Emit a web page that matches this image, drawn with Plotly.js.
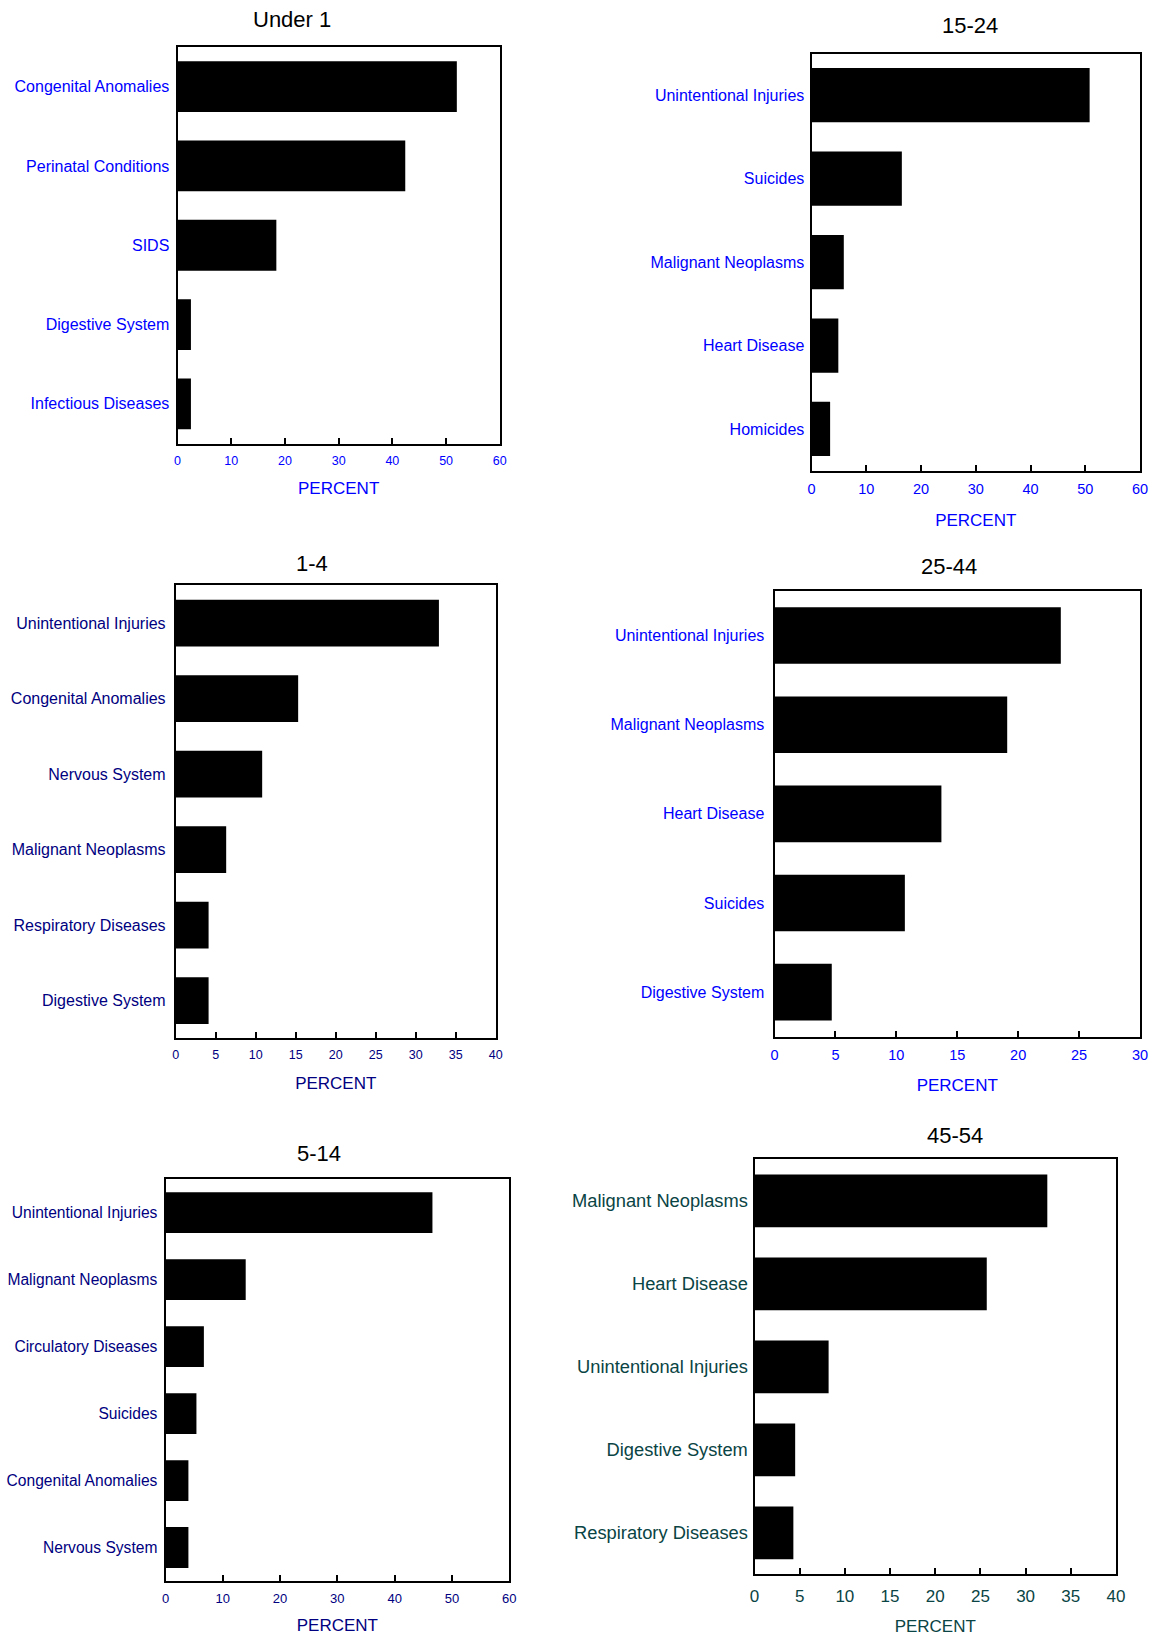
<!DOCTYPE html>
<html>
<head>
<meta charset="utf-8">
<script src="https://cdn.plot.ly/plotly-3.0.1.min.js"></script>
<style>
  html, body { margin: 0; padding: 0; background: #ffffff; }
  #chart { width: 1151px; height: 1636px; }
</style>
</head>
<body>
<div id="chart"></div>
<script>
// ---------------- DATA ----------------
const catsUnder1 = ['Congenital Anomalies', 'Perinatal Conditions', 'SIDS', 'Digestive System', 'Infectious Diseases'];
const valsUnder1 = [52.0, 42.4, 18.4, 2.5, 2.5];

const cats15to24 = ['Unintentional Injuries', 'Suicides', 'Malignant Neoplasms', 'Heart Disease', 'Homicides'];
const vals15to24 = [50.8, 16.5, 5.9, 4.9, 3.4];

const cats1to4 = ['Unintentional Injuries', 'Congenital Anomalies', 'Nervous System', 'Malignant Neoplasms', 'Respiratory Diseases', 'Digestive System'];
const vals1to4 = [32.9, 15.3, 10.8, 6.3, 4.1, 4.1];

const cats25to44 = ['Unintentional Injuries', 'Malignant Neoplasms', 'Heart Disease', 'Suicides', 'Digestive System'];
const vals25to44 = [23.5, 19.1, 13.7, 10.7, 4.7];

const cats5to14 = ['Unintentional Injuries', 'Malignant Neoplasms', 'Circulatory Diseases', 'Suicides', 'Congenital Anomalies', 'Nervous System'];
const vals5to14 = [46.6, 14.0, 6.7, 5.4, 4.0, 4.0];

const cats45to54 = ['Malignant Neoplasms', 'Heart Disease', 'Unintentional Injuries', 'Digestive System', 'Respiratory Diseases'];
const vals45to54 = [32.4, 25.7, 8.2, 4.5, 4.3];

const ticks60 = [0, 10, 20, 30, 40, 50, 60];
const ticks40 = [0, 5, 10, 15, 20, 25, 30, 35, 40];
const ticks30 = [0, 5, 10, 15, 20, 25, 30];

const axisTitle = 'PERCENT';

// ---------------- LAYOUT CONFIG ----------------
const W = 1151, H = 1636;
const FONT = 'Liberation Sans, Arial, Helvetica, sans-serif';

const panels = [
  { title: 'Under 1', cats: catsUnder1, vals: valsUnder1, ticks: ticks60,
    box: [177.5, 499.8, 47, 443.5], titlePos: [292, 19], color: '#0000ff',
    labelSize: 16, tickSize: 12.5, barWidth: 0.64, yStand: 3, xStand: 4, pctStand: 16 },
  { title: '15-24', cats: cats15to24, vals: vals15to24, ticks: ticks60,
    box: [811.5, 1140, 53.5, 470.7], titlePos: [970, 25], color: '#0000ff',
    labelSize: 16, tickSize: 14.5, barWidth: 0.65, yStand: 2, xStand: 4, pctStand: 18 },
  { title: '1-4', cats: cats1to4, vals: vals1to4, ticks: ticks40,
    box: [175.8, 495.7, 585.4, 1038.3], titlePos: [312, 563.5], color: '#000080',
    labelSize: 16, tickSize: 12.5, barWidth: 0.62, yStand: 5, xStand: 4, pctStand: 16 },
  { title: '25-44', cats: cats25to44, vals: vals25to44, ticks: ticks30,
    box: [774.5, 1140, 591, 1036.7], titlePos: [949.3, 566.7], color: '#0000ff',
    labelSize: 16, tickSize: 14.5, barWidth: 0.635, yStand: 5, xStand: 4, pctStand: 17 },
  { title: '5-14', cats: cats5to14, vals: vals5to14, ticks: ticks60,
    box: [165.5, 509.2, 1179.2, 1581], titlePos: [319.3, 1153], color: '#000080',
    labelSize: 15.6, tickSize: 13, barWidth: 0.61, yStand: 3, xStand: 4, pctStand: 15 },
  { title: '45-54', cats: cats45to54, vals: vals45to54, ticks: ticks40,
    box: [754.5, 1116, 1159.3, 1574.3], titlePos: [955, 1135], color: '#0a4444',
    labelSize: 18.3, tickSize: 17, barWidth: 0.635, yStand: 1, xStand: 5, pctStand: 17 }
];

const data = [];
const layout = {
  width: W, height: H,
  margin: { l: 0, r: 0, t: 0, b: 0, pad: 0 },
  paper_bgcolor: '#ffffff', plot_bgcolor: '#ffffff',
  showlegend: false,
  font: { family: FONT, color: '#000000' },
  annotations: []
};

panels.forEach((p, i) => {
  const n = i + 1;
  const xa = 'xaxis' + (n === 1 ? '' : n);
  const ya = 'yaxis' + (n === 1 ? '' : n);
  const xr = 'x' + (n === 1 ? '' : n);
  const yr = 'y' + (n === 1 ? '' : n);

  data.push({
    type: 'bar', orientation: 'h',
    x: p.vals, y: p.cats,
    xaxis: xr, yaxis: yr,
    width: p.barWidth,
    marker: { color: '#000000', line: { width: 0 } },
    hoverinfo: 'x+y'
  });

  const maxV = p.ticks[p.ticks.length - 1];
  layout[xa] = {
    domain: [p.box[0] / W, p.box[1] / W],
    anchor: yr,
    range: [0, maxV],
    tickmode: 'array',
    tickvals: p.ticks,
    ticktext: p.ticks.map(String),
    ticks: 'inside', ticklen: 6, tickwidth: 2, tickcolor: '#000000',
    ticklabelstandoff: p.xStand,
    showgrid: false, zeroline: false,
    showline: true, linecolor: '#000000', linewidth: 2, mirror: true,
    tickfont: { family: FONT, size: p.tickSize, color: p.color },
    title: { text: axisTitle, font: { family: FONT, size: 17, color: p.color }, standoff: p.pctStand },
    automargin: false,
    fixedrange: true
  };
  layout[ya] = {
    domain: [1 - p.box[3] / H, 1 - p.box[2] / H],
    anchor: xr,
    type: 'category',
    categoryorder: 'array',
    categoryarray: p.cats,
    range: [p.cats.length - 0.5, -0.5],
    ticks: '',
    ticklabelstandoff: p.yStand,
    showgrid: false, zeroline: false,
    showline: true, linecolor: '#000000', linewidth: 2, mirror: true,
    tickfont: { family: FONT, size: p.labelSize, color: p.color },
    automargin: false,
    fixedrange: true
  };

  layout.annotations.push({
    text: p.title,
    xref: 'paper', yref: 'paper',
    x: p.titlePos[0] / W, y: 1 - p.titlePos[1] / H,
    xanchor: 'center', yanchor: 'middle',
    showarrow: false,
    font: { family: FONT, size: 22, color: '#000000' }
  });
});

Plotly.newPlot('chart', data, layout, { staticPlot: true, displayModeBar: false });
</script>
</body>
</html>
